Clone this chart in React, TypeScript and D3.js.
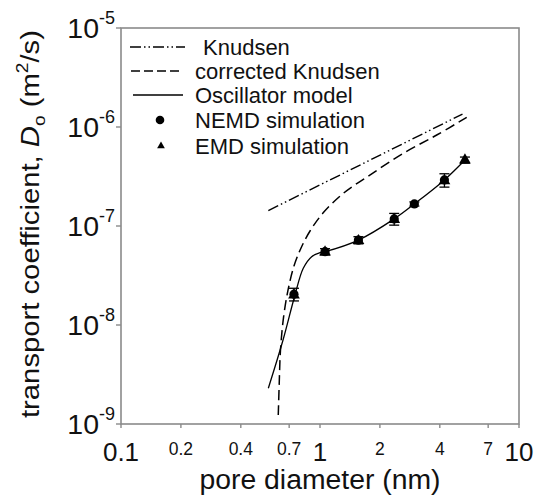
import * as d3 from "d3";

// pore diameter (nm) of the simulated tubes
const poreDiameter = [0.74, 1.06, 1.56, 2.36, 2.98, 4.22, 5.35];
// NEMD transport coefficients (m2/s), null where only EMD is shown
const nemdD = [2.05e-8, 5.5e-8, 7.2e-8, 1.18e-7, 1.67e-7, 2.92e-7, null];
// EMD transport coefficients (m2/s), null where only NEMD is shown
const emdD = [2.0e-8, 5.45e-8, 7.1e-8, 1.16e-7, null, 2.85e-7, 4.64e-7];
// error bar half-width (m2/s)
const errD = [0.3e-8, 0.4e-8, 0.6e-8, 0.16e-7, 0.08e-7, 0.45e-7, 0.33e-7];

// Knudsen line
const knudsenDiameter = [0.55, 5.2];
const knudsenD = [1.43e-7, 1.35e-6];

// corrected Knudsen curve
const corrDiameter = [0.617, 0.624, 0.633, 0.656, 0.691, 0.74, 0.803, 0.891, 1.035, 1.31, 1.78, 2.62, 3.86, 5.46];
const corrD = [1.23e-9, 2.6e-9, 5.58e-9, 1.2e-8, 2.26e-8, 3.94e-8, 6.0e-8, 8.9e-8, 1.35e-7, 2.14e-7, 3.27e-7, 5.42e-7, 8.3e-7, 1.25e-6];

// oscillator model curve
const oscDiameter = [0.55, 0.652, 0.748, 0.824, 0.908, 1.0, 1.06, 1.56, 2.36, 2.98, 4.22, 5.35];
const oscD = [2.3e-9, 7.05e-9, 2.0e-8, 3.74e-8, 4.9e-8, 5.37e-8, 5.5e-8, 7.2e-8, 1.18e-7, 1.67e-7, 2.92e-7, 4.64e-7];

// axis ticks
const xTicks = [0.1, 0.2, 0.4, 0.7, 1, 2, 4, 7, 10];
const xBigTicks = [0.1, 1, 10];
const yExponents = [-9, -8, -7, -6, -5];

const legendItems = ["Knudsen", "corrected Knudsen", "Oscillator model", "NEMD simulation", "EMD simulation"];

export default function App() {
  const margin = { top: 28, right: 17, bottom: 71, left: 121 };
  const W = 536;
  const H = 495;

  const x = d3.scaleLog().domain([0.1, 10]).range([margin.left, W - margin.right]);
  const y = d3.scaleLog().domain([1e-9, 1e-5]).range([H - margin.bottom, margin.top]);

  const line = d3
    .line<[number, number]>()
    .x((d) => x(d[0]))
    .y((d) => y(d[1]))
    .curve(d3.curveCatmullRom.alpha(0.5));

  const knudsenPath = line(knudsenDiameter.map((d, i) => [d, knudsenD[i]]));
  const corrPath = line(corrDiameter.map((d, i) => [d, corrD[i]]));
  const oscPath = line(oscDiameter.map((d, i) => [d, oscD[i]]));

  const tri = d3.symbol().type(d3.symbolTriangle).size(60)();
  const triLegend = d3.symbol().type(d3.symbolTriangle).size(26)();

  const knudsenDash = "11,3,1.5,3,1.5,3";
  const corrDash = "10,5";
  const axisColor = "#8a8a8a";

  const x0 = x(0.1);
  const x1 = x(10);
  const y0 = y(1e-9);
  const y1 = y(1e-5);

  const legendY = [47, 71, 95, 120, 146];

  return (
    <div style={{ position: "absolute", left: 0, top: 0 }}>
      <svg width={W} height={H} style={{ display: "block", background: "#fff" }} fontFamily="'Liberation Sans', Arial, sans-serif">
        {/* frame */}
        <rect x={x0} y={y1} width={x1 - x0} height={y0 - y1} fill="none" stroke={axisColor} strokeWidth={1.6} />

        {/* y ticks and labels */}
        {yExponents.map((e) => {
          const yy = y(Math.pow(10, e));
          return (
            <g key={e}>
              <line x1={x0 - 5} x2={x0} y1={yy} y2={yy} stroke={axisColor} strokeWidth={1.4} />
              <text x={115} y={yy + 10} textAnchor="end" fontSize={28.5} fill="#111">
                <tspan>10</tspan>
                <tspan dy={-14} fontSize={18}>{e}</tspan>
              </text>
            </g>
          );
        })}

        {/* x ticks and labels */}
        {xTicks.map((t) => {
          const xx = x(t);
          const big = xBigTicks.includes(t);
          return (
            <g key={t}>
              <line x1={xx} x2={xx} y1={y0} y2={y0 + 4} stroke={axisColor} strokeWidth={1.4} />
              <text x={xx} y={big ? 461 : 455} textAnchor="middle" fontSize={big ? 26 : 17.5} fill="#111">
                {t}
              </text>
            </g>
          );
        })}

        {/* curves */}
        <path d={knudsenPath ?? ""} fill="none" stroke="#000" strokeWidth={1.4} strokeDasharray={knudsenDash} />
        <path d={corrPath ?? ""} fill="none" stroke="#000" strokeWidth={1.5} strokeDasharray={corrDash} />
        <path d={oscPath ?? ""} fill="none" stroke="#000" strokeWidth={1.3} />

        {/* error bars */}
        {poreDiameter.map((d, i) => {
          const v = nemdD[i] ?? emdD[i] ?? 0;
          const xx = x(d);
          const top = y(v + errD[i]);
          const bot = y(v - errD[i]);
          return (
            <g key={"e" + i} stroke="#000" strokeWidth={1.3}>
              <line x1={xx} x2={xx} y1={top} y2={bot} />
              <line x1={xx - 5} x2={xx + 5} y1={top} y2={top} />
              <line x1={xx - 5} x2={xx + 5} y1={bot} y2={bot} />
            </g>
          );
        })}

        {/* NEMD points */}
        {poreDiameter.map((d, i) =>
          nemdD[i] == null ? null : <circle key={"n" + i} cx={x(d)} cy={y(nemdD[i] as number)} r={4.6} fill="#000" />
        )}
        {/* EMD points */}
        {poreDiameter.map((d, i) =>
          emdD[i] == null ? null : (
            <path key={"m" + i} d={tri ?? ""} transform={`translate(${x(d)},${y(emdD[i] as number)})`} fill="#000" />
          )
        )}

        {/* legend */}
        <g>
          <line x1={130} x2={185} y1={legendY[0]} y2={legendY[0]} stroke="#000" strokeWidth={1.4} strokeDasharray={knudsenDash} />
          <line x1={131} x2={182} y1={legendY[1]} y2={legendY[1]} stroke="#000" strokeWidth={1.4} strokeDasharray="9,4" />
          <line x1={133} x2={183} y1={legendY[2]} y2={legendY[2]} stroke="#000" strokeWidth={1.3} />
          <circle cx={160} cy={legendY[3]} r={4.3} fill="#000" />
          <path d={triLegend ?? ""} transform={`translate(161,${legendY[4]})`} fill="#000" />
          {legendItems.map((s, i) => (
            <text key={s} x={i === 0 ? 203 : 195} y={legendY[i] + 8} fontSize={22} fill="#111">
              {s}
            </text>
          ))}
        </g>

        {/* axis titles */}
        <text x={320} y={489} textAnchor="middle" fontSize={27} fill="#111" textLength={241} lengthAdjust="spacingAndGlyphs">
          pore diameter (nm)
        </text>
        <text
          transform={`translate(39,${(y0 + y1) / 2 - 2}) rotate(-90)`}
          textAnchor="middle"
          fontSize={26}
          fill="#111"
          textLength={388}
          lengthAdjust="spacingAndGlyphs"
        >
          transport coefficient, <tspan fontStyle="italic">D</tspan>
          <tspan dy={6} fontSize={17}>o</tspan>
          <tspan dy={-6}> (m</tspan>
          <tspan dy={-11} fontSize={17}>2</tspan>
          <tspan dy={11}>/s)</tspan>
        </text>
      </svg>
    </div>
  );
}
